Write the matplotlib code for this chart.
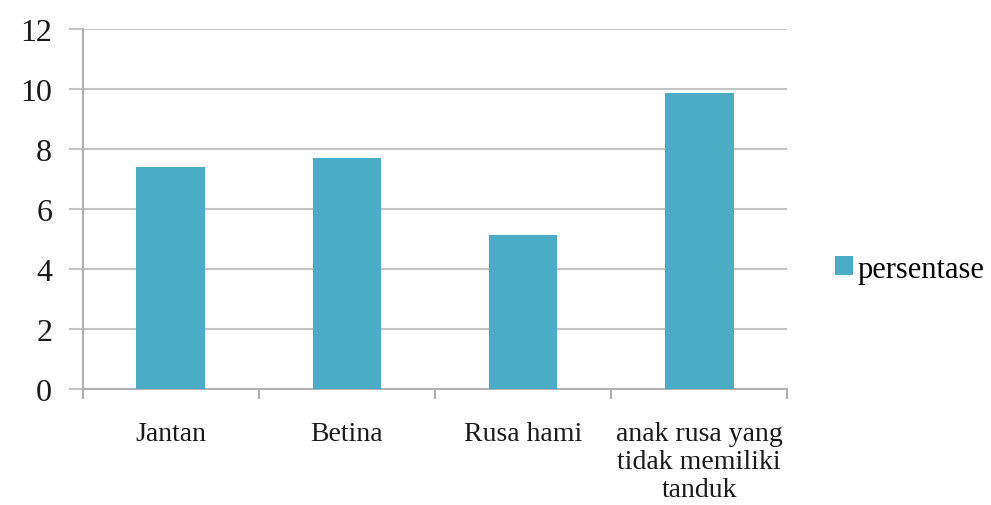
import matplotlib
matplotlib.use("Agg")
import matplotlib.pyplot as plt
import numpy as np

categories = ["Jantan", "Betina", "Rusa hami", "anak rusa yang\ntidak memiliki\ntanduk"]
persentase = [7.4, 7.7, 5.15, 9.87]
series_name = "persentase"
y_ticks = [0, 2, 4, 6, 8, 10, 12]

plt.rcParams["font.family"] = ["Liberation Serif", "DejaVu Serif"]

fig = plt.figure(figsize=(9.91, 5.06), dpi=100)
ax = fig.add_axes([0.0835, 0.229, 0.711, 0.712])

x = np.arange(len(categories))
bars = ax.bar(x, persentase, width=0.39, color="#4BACC6", label=series_name, zorder=3)

ax.set_xlim(-0.5, len(categories) - 0.5)
ax.set_ylim(0, 12)
ax.set_yticks(y_ticks)
ax.set_yticklabels([str(v) for v in y_ticks], fontsize=23, color="#1a1a1a")
ax.yaxis.grid(True, color="#c4c4c4", linewidth=1.5, zorder=0)
ax.set_axisbelow(True)

ax.set_xticks(x)
ax.set_xticklabels(categories, fontsize=20, color="#1a1a1a", linespacing=1.15)
ax.set_xticks(np.arange(-0.5, len(categories), 1.0), minor=True)
ax.tick_params(axis="x", which="major", length=0, pad=23)
ax.tick_params(axis="x", which="minor", length=7, width=1.2, color="#a0a0a0", direction="out")
ax.tick_params(axis="y", length=10, width=1.5, color="#c4c4c4", pad=12)

for side in ["top", "right"]:
    ax.spines[side].set_visible(False)
ax.spines["left"].set_color("#b0b0b0")
ax.spines["left"].set_linewidth(1.5)
ax.spines["bottom"].set_color("#b0b0b0")
ax.spines["bottom"].set_linewidth(1.5)

leg = ax.legend(loc="center left", bbox_to_anchor=(1.05, 0.333), frameon=False,
                fontsize=22, handlelength=0.58, handleheight=0.58, handletextpad=0.15,
                borderaxespad=0)

fig.savefig("out.png", dpi=100, facecolor="white")
